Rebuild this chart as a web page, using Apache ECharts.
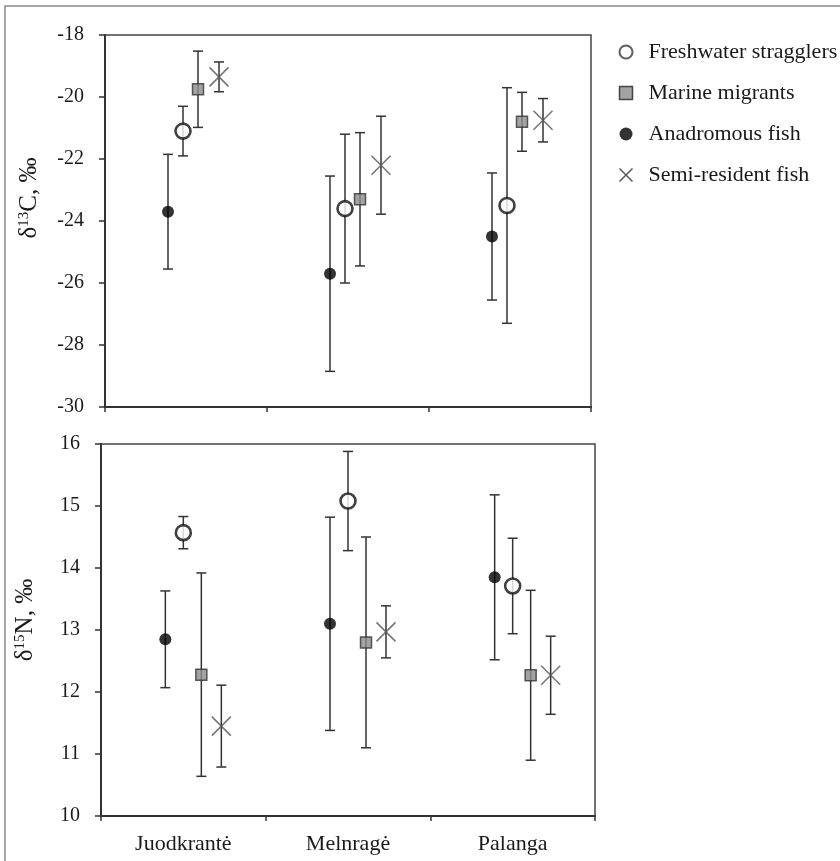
<!DOCTYPE html>
<html>
<head>
<meta charset="utf-8">
<script src="https://cdn.jsdelivr.net/npm/echarts@6/dist/echarts.min.js"></script>
<style>
  html, body { margin: 0; padding: 0; background: #fff; }
  #chart { width: 840px; height: 861px; }
</style>
</head>
<body>
<div id="chart"></div>
<script>
// Sampling sites
const sites = ['Juodkrantė', 'Melnragė', 'Palanga'];

// Groups (legend order)
const groups = ['Freshwater stragglers', 'Marine migrants', 'Anadromous fish', 'Semi-resident fish'];

// δ13C, ‰ : mean and SD per site
const c13Freshwater = [-21.1, -23.6, -23.5];
const c13FreshwaterSd = [0.8, 2.4, 3.8];
const c13Marine = [-19.75, -23.3, -20.8];
const c13MarineSd = [1.23, 2.15, 0.95];
const c13Anadromous = [-23.7, -25.7, -24.5];
const c13AnadromousSd = [1.85, 3.15, 2.05];
const c13Semi = [-19.35, -22.2, -20.75];
const c13SemiSd = [0.48, 1.58, 0.7];

// δ15N, ‰ : mean and SD per site
const n15Freshwater = [14.57, 15.08, 13.71];
const n15FreshwaterSd = [0.26, 0.8, 0.77];
const n15Marine = [12.28, 12.8, 12.27];
const n15MarineSd = [1.64, 1.7, 1.37];
const n15Anadromous = [12.85, 13.1, 13.85];
const n15AnadromousSd = [0.78, 1.72, 1.33];
const n15Semi = [11.45, 12.97, 12.27];
const n15SemiSd = [0.66, 0.42, 0.63];

// Axis ticks
const c13Ticks = { min: -30, max: -18, interval: 2 };
const n15Ticks = { min: 10, max: 16, interval: 1 };

const panels = [
  { means: [c13Freshwater, c13Marine, c13Anadromous, c13Semi],
    sds: [c13FreshwaterSd, c13MarineSd, c13AnadromousSd, c13SemiSd],
    offsets: [-3, 12, -18, 33], nameShift: 46 },
  { means: [n15Freshwater, n15Marine, n15Anadromous, n15Semi],
    sds: [n15FreshwaterSd, n15MarineSd, n15AnadromousSd, n15SemiSd],
    offsets: [0, 18, -18, 38], nameShift: 20 }
];

const FONT = "'Liberation Serif', 'Times New Roman', serif";
const INK = '#1a1a1a';

const markerStyles = [
  { symbol: 'circle', symbolSize: 15, itemStyle: { color: '#fff', borderColor: '#111', borderWidth: 2.6 } },
  { symbol: 'rect', symbolSize: 11, itemStyle: { color: '#8c8c8c', borderColor: '#333', borderWidth: 1.5 } },
  { symbol: 'circle', symbolSize: 12, itemStyle: { color: '#000', borderColor: '#000', borderWidth: 0 } },
  { symbol: 'path://M0,0L10,10M10,0L0,10', symbolSize: 19, itemStyle: { color: 'none', borderColor: '#555', borderWidth: 1.6 } }
];

// Legend icons (smaller glyphs than the plotted markers)
const legendIcons = [
  { icon: 'circle', itemStyle: { color: '#fff', borderColor: '#333', borderWidth: 2 } },
  { icon: 'path://M0,0H10V10H0Z', itemStyle: { color: '#8c8c8c', borderColor: '#222', borderWidth: 1.5 } },
  { icon: 'circle', itemStyle: { color: '#000', borderColor: '#000', borderWidth: 0 } },
  { icon: 'path://M0,0L10,10M10,0L0,10', itemStyle: { color: 'none', borderColor: '#333', borderWidth: 1.6 } }
];

function errorBars(offset) {
  return function (params, api) {
    const i = api.value(0);
    const lo = api.coord([i, api.value(1)]);
    const hi = api.coord([i, api.value(2)]);
    const x = lo[0] + offset;
    const cap = 5;
    const st = { stroke: '#333', lineWidth: 1.5 };
    return {
      type: 'group',
      children: [
        { type: 'line', shape: { x1: x, y1: lo[1], x2: x, y2: hi[1] }, style: st },
        { type: 'line', shape: { x1: x - cap, y1: lo[1], x2: x + cap, y2: lo[1] }, style: st },
        { type: 'line', shape: { x1: x - cap, y1: hi[1], x2: x + cap, y2: hi[1] }, style: st }
      ]
    };
  };
}

const series = [];
panels.forEach((p, pi) => {
  groups.forEach((g, gi) => {
    const m = p.means[gi], sd = p.sds[gi];
    series.push({
      type: 'custom',
      name: g + ' SD',
      xAxisIndex: pi, yAxisIndex: pi,
      renderItem: errorBars(p.offsets[gi]),
      encode: { x: 0, y: [1, 2] },
      data: sites.map((s, i) => [i, m[i] - sd[i], m[i] + sd[i]]),
      z: 3, silent: true
    });
    series.push(Object.assign({
      type: 'scatter',
      name: g,
      xAxisIndex: pi, yAxisIndex: pi,
      symbolOffset: [p.offsets[gi], 0],
      data: sites.map((s, i) => [i, m[i]]),
      z: 5
    }, JSON.parse(JSON.stringify(markerStyles[gi]))));
  });
});

function yAxis(grid, ticks, sup, letter, shift) {
  return Object.assign({
    type: 'value', gridIndex: grid,
    name: '{d|δ}{s|' + sup + '}{d|' + letter + ', ‰}',
    nameLocation: 'middle', nameGap: 63, nameRotate: 90,
    nameTextStyle: {
      padding: [0, 0, 0, shift],
      rich: {
        d: { fontFamily: FONT, fontSize: 25, color: INK },
        s: { fontFamily: FONT, fontSize: 15, color: INK, verticalAlign: 'top', padding: [0, 0, 9, 0] }
      }
    },
    axisLine: { show: true, lineStyle: { color: '#333', width: 2 } },
    axisTick: { show: true, length: 6, lineStyle: { color: '#333', width: 1.5 } },
    axisLabel: { fontFamily: FONT, fontSize: 20, color: INK, margin: 21 },
    splitLine: { show: false }
  }, ticks);
}

function xAxis(grid, showLabels) {
  return {
    type: 'category', gridIndex: grid, data: sites,
    boundaryGap: true,
    axisLine: { show: true, lineStyle: { color: '#333', width: 2 } },
    axisTick: { show: true, length: 5, lineStyle: { color: '#333', width: 1.5 } },
    axisLabel: { show: showLabels, fontFamily: FONT, fontSize: 22, color: INK, margin: 17 },
    splitLine: { show: false }
  };
}

const chart = echarts.init(document.getElementById('chart'), null, { renderer: 'canvas' });
chart.setOption({
  backgroundColor: '#fff',
  animation: false,
  grid: [
    { left: 105, top: 35, width: 486, height: 372, show: true, borderColor: '#444', borderWidth: 1.5 },
    { left: 101, top: 444, width: 494, height: 372, show: true, borderColor: '#444', borderWidth: 1.5 }
  ],
  xAxis: [xAxis(0, false), xAxis(1, true)],
  yAxis: [yAxis(0, c13Ticks, '13', 'C', panels[0].nameShift), yAxis(1, n15Ticks, '15', 'N', panels[1].nameShift)],
  legend: {
    orient: 'vertical', left: 612, top: 36,
    itemWidth: 13, itemHeight: 13, itemGap: 19,
    textStyle: { fontFamily: FONT, fontSize: 22, color: INK, padding: [0, 0, 0, 11] },
    data: groups.map((g, gi) => Object.assign({ name: g }, JSON.parse(JSON.stringify(legendIcons[gi]))))
  },
  graphic: [{
    type: 'rect', silent: true, z: -1,
    shape: { x: 5, y: 6, width: 900, height: 900 },
    style: { fill: 'none', stroke: '#8a8a8a', lineWidth: 1.5 }
  }],
  series: series
});
</script>
</body>
</html>
